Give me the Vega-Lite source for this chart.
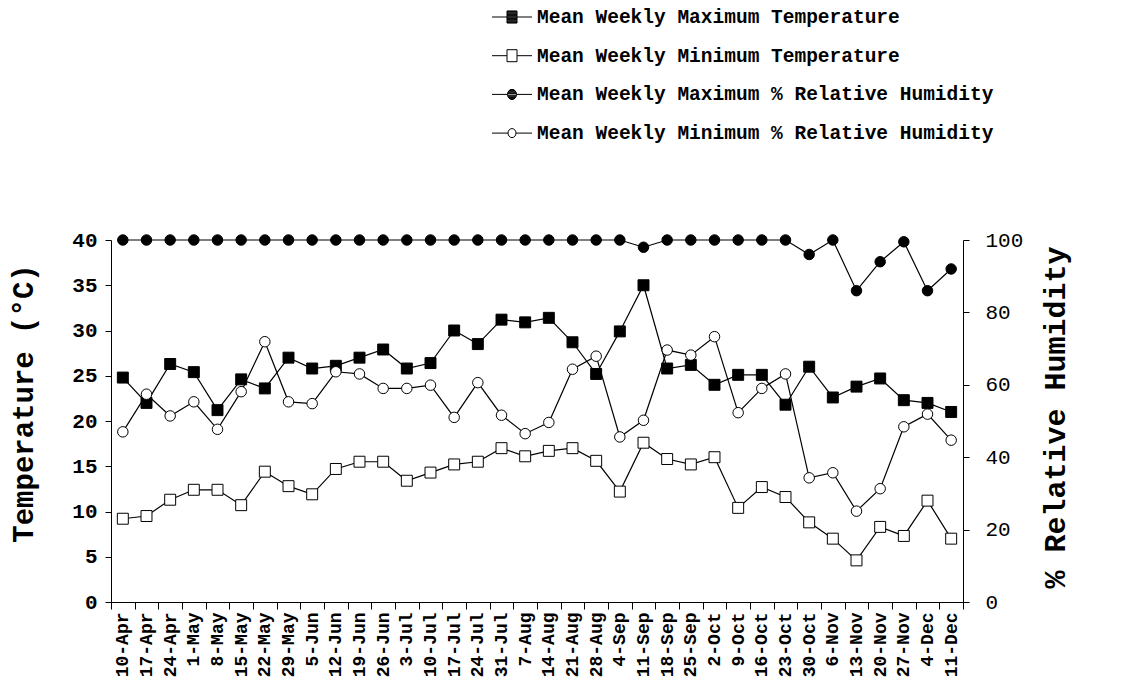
{
  "$schema": "https://vega.github.io/schema/vega-lite/v6.json",
  "width": 852,
  "height": 362,
  "autosize": "none",
  "padding": {"left": 111, "top": 240, "right": 173, "bottom": 94},
  "background": "white",
  "config": {
    "view": {"stroke": null},
    "axis": {"grid": false, "domainColor": "black", "tickColor": "black", "labelColor": "black", "titleColor": "black", "domainWidth": 1, "tickWidth": 1},
    "legend": {"rowPadding": 18.7, "padding": 0, "labelFont": "Liberation Mono", "labelFontWeight": "bold", "labelFontSize": 19.5, "labelColor": "black", "labelOffset": 14.5, "symbolSize": 400, "symbolStrokeColor": "black", "symbolStrokeWidth": 1, "labelLimit": 800}
  },
  "data": {
    "values": [
      {"week": "10-Apr", "Mean Weekly Maximum Temperature": 24.8, "Mean Weekly Minimum Temperature": 9.2, "Mean Weekly Maximum % Relative Humidity": 100, "Mean Weekly Minimum % Relative Humidity": 47.0},
      {"week": "17-Apr", "Mean Weekly Maximum Temperature": 22.0, "Mean Weekly Minimum Temperature": 9.5, "Mean Weekly Maximum % Relative Humidity": 100, "Mean Weekly Minimum % Relative Humidity": 57.4},
      {"week": "24-Apr", "Mean Weekly Maximum Temperature": 26.3, "Mean Weekly Minimum Temperature": 11.3, "Mean Weekly Maximum % Relative Humidity": 100, "Mean Weekly Minimum % Relative Humidity": 51.4},
      {"week": "1-May", "Mean Weekly Maximum Temperature": 25.4, "Mean Weekly Minimum Temperature": 12.4, "Mean Weekly Maximum % Relative Humidity": 100, "Mean Weekly Minimum % Relative Humidity": 55.3},
      {"week": "8-May", "Mean Weekly Maximum Temperature": 21.2, "Mean Weekly Minimum Temperature": 12.4, "Mean Weekly Maximum % Relative Humidity": 100, "Mean Weekly Minimum % Relative Humidity": 47.7},
      {"week": "15-May", "Mean Weekly Maximum Temperature": 24.6, "Mean Weekly Minimum Temperature": 10.7, "Mean Weekly Maximum % Relative Humidity": 100, "Mean Weekly Minimum % Relative Humidity": 58.1},
      {"week": "22-May", "Mean Weekly Maximum Temperature": 23.6, "Mean Weekly Minimum Temperature": 14.4, "Mean Weekly Maximum % Relative Humidity": 100, "Mean Weekly Minimum % Relative Humidity": 71.9},
      {"week": "29-May", "Mean Weekly Maximum Temperature": 27.0, "Mean Weekly Minimum Temperature": 12.8, "Mean Weekly Maximum % Relative Humidity": 100, "Mean Weekly Minimum % Relative Humidity": 55.3},
      {"week": "5-Jun", "Mean Weekly Maximum Temperature": 25.8, "Mean Weekly Minimum Temperature": 11.9, "Mean Weekly Maximum % Relative Humidity": 100, "Mean Weekly Minimum % Relative Humidity": 54.8},
      {"week": "12-Jun", "Mean Weekly Maximum Temperature": 26.1, "Mean Weekly Minimum Temperature": 14.7, "Mean Weekly Maximum % Relative Humidity": 100, "Mean Weekly Minimum % Relative Humidity": 63.6},
      {"week": "19-Jun", "Mean Weekly Maximum Temperature": 27.0, "Mean Weekly Minimum Temperature": 15.5, "Mean Weekly Maximum % Relative Humidity": 100, "Mean Weekly Minimum % Relative Humidity": 63.0},
      {"week": "26-Jun", "Mean Weekly Maximum Temperature": 27.9, "Mean Weekly Minimum Temperature": 15.5, "Mean Weekly Maximum % Relative Humidity": 100, "Mean Weekly Minimum % Relative Humidity": 59.0},
      {"week": "3-Jul", "Mean Weekly Maximum Temperature": 25.8, "Mean Weekly Minimum Temperature": 13.4, "Mean Weekly Maximum % Relative Humidity": 100, "Mean Weekly Minimum % Relative Humidity": 59.0},
      {"week": "10-Jul", "Mean Weekly Maximum Temperature": 26.4, "Mean Weekly Minimum Temperature": 14.3, "Mean Weekly Maximum % Relative Humidity": 100, "Mean Weekly Minimum % Relative Humidity": 59.9},
      {"week": "17-Jul", "Mean Weekly Maximum Temperature": 30.0, "Mean Weekly Minimum Temperature": 15.2, "Mean Weekly Maximum % Relative Humidity": 100, "Mean Weekly Minimum % Relative Humidity": 51.0},
      {"week": "24-Jul", "Mean Weekly Maximum Temperature": 28.5, "Mean Weekly Minimum Temperature": 15.5, "Mean Weekly Maximum % Relative Humidity": 100, "Mean Weekly Minimum % Relative Humidity": 60.6},
      {"week": "31-Jul", "Mean Weekly Maximum Temperature": 31.2, "Mean Weekly Minimum Temperature": 17.0, "Mean Weekly Maximum % Relative Humidity": 100, "Mean Weekly Minimum % Relative Humidity": 51.6},
      {"week": "7-Aug", "Mean Weekly Maximum Temperature": 30.9, "Mean Weekly Minimum Temperature": 16.1, "Mean Weekly Maximum % Relative Humidity": 100, "Mean Weekly Minimum % Relative Humidity": 46.5},
      {"week": "14-Aug", "Mean Weekly Maximum Temperature": 31.4, "Mean Weekly Minimum Temperature": 16.7, "Mean Weekly Maximum % Relative Humidity": 100, "Mean Weekly Minimum % Relative Humidity": 49.6},
      {"week": "21-Aug", "Mean Weekly Maximum Temperature": 28.7, "Mean Weekly Minimum Temperature": 17.0, "Mean Weekly Maximum % Relative Humidity": 100, "Mean Weekly Minimum % Relative Humidity": 64.3},
      {"week": "28-Aug", "Mean Weekly Maximum Temperature": 25.2, "Mean Weekly Minimum Temperature": 15.6, "Mean Weekly Maximum % Relative Humidity": 100, "Mean Weekly Minimum % Relative Humidity": 67.9},
      {"week": "4-Sep", "Mean Weekly Maximum Temperature": 29.9, "Mean Weekly Minimum Temperature": 12.2, "Mean Weekly Maximum % Relative Humidity": 100, "Mean Weekly Minimum % Relative Humidity": 45.6},
      {"week": "11-Sep", "Mean Weekly Maximum Temperature": 35.0, "Mean Weekly Minimum Temperature": 17.6, "Mean Weekly Maximum % Relative Humidity": 98, "Mean Weekly Minimum % Relative Humidity": 50.2},
      {"week": "18-Sep", "Mean Weekly Maximum Temperature": 25.8, "Mean Weekly Minimum Temperature": 15.8, "Mean Weekly Maximum % Relative Humidity": 100, "Mean Weekly Minimum % Relative Humidity": 69.6},
      {"week": "25-Sep", "Mean Weekly Maximum Temperature": 26.2, "Mean Weekly Minimum Temperature": 15.2, "Mean Weekly Maximum % Relative Humidity": 100, "Mean Weekly Minimum % Relative Humidity": 68.2},
      {"week": "2-Oct", "Mean Weekly Maximum Temperature": 24.0, "Mean Weekly Minimum Temperature": 16.0, "Mean Weekly Maximum % Relative Humidity": 100, "Mean Weekly Minimum % Relative Humidity": 73.3},
      {"week": "9-Oct", "Mean Weekly Maximum Temperature": 25.1, "Mean Weekly Minimum Temperature": 10.4, "Mean Weekly Maximum % Relative Humidity": 100, "Mean Weekly Minimum % Relative Humidity": 52.3},
      {"week": "16-Oct", "Mean Weekly Maximum Temperature": 25.1, "Mean Weekly Minimum Temperature": 12.7, "Mean Weekly Maximum % Relative Humidity": 100, "Mean Weekly Minimum % Relative Humidity": 59.0},
      {"week": "23-Oct", "Mean Weekly Maximum Temperature": 21.8, "Mean Weekly Minimum Temperature": 11.6, "Mean Weekly Maximum % Relative Humidity": 100, "Mean Weekly Minimum % Relative Humidity": 63.0},
      {"week": "30-Oct", "Mean Weekly Maximum Temperature": 26.0, "Mean Weekly Minimum Temperature": 8.8, "Mean Weekly Maximum % Relative Humidity": 96, "Mean Weekly Minimum % Relative Humidity": 34.3},
      {"week": "6-Nov", "Mean Weekly Maximum Temperature": 22.6, "Mean Weekly Minimum Temperature": 7.0, "Mean Weekly Maximum % Relative Humidity": 100, "Mean Weekly Minimum % Relative Humidity": 35.7},
      {"week": "13-Nov", "Mean Weekly Maximum Temperature": 23.8, "Mean Weekly Minimum Temperature": 4.6, "Mean Weekly Maximum % Relative Humidity": 86, "Mean Weekly Minimum % Relative Humidity": 25.1},
      {"week": "20-Nov", "Mean Weekly Maximum Temperature": 24.7, "Mean Weekly Minimum Temperature": 8.3, "Mean Weekly Maximum % Relative Humidity": 94, "Mean Weekly Minimum % Relative Humidity": 31.3},
      {"week": "27-Nov", "Mean Weekly Maximum Temperature": 22.3, "Mean Weekly Minimum Temperature": 7.3, "Mean Weekly Maximum % Relative Humidity": 99.5, "Mean Weekly Minimum % Relative Humidity": 48.4},
      {"week": "4-Dec", "Mean Weekly Maximum Temperature": 22.0, "Mean Weekly Minimum Temperature": 11.2, "Mean Weekly Maximum % Relative Humidity": 86, "Mean Weekly Minimum % Relative Humidity": 51.9},
      {"week": "11-Dec", "Mean Weekly Maximum Temperature": 21.0, "Mean Weekly Minimum Temperature": 7.0, "Mean Weekly Maximum % Relative Humidity": 92, "Mean Weekly Minimum % Relative Humidity": 44.7}
    ]
  },
  "encoding": {
    "x": {
      "field": "week", "type": "ordinal", "sort": null,
      "scale": {"type": "band", "paddingInner": 0, "paddingOuter": 0},
      "axis": {"title": null, "labelAngle": -90, "tickBand": "extent", "labelFont": "Liberation Mono", "labelFontWeight": "bold", "labelFontSize": 18, "tickSize": 7, "labelPadding": 3}
    }
  },
  "layer": [
    {
      "transform": [{"fold": ["Mean Weekly Maximum Temperature", "Mean Weekly Minimum Temperature"], "as": ["series", "value"]}],
      "encoding": {
        "y": {
          "field": "value", "type": "quantitative",
          "scale": {"domain": [0, 40], "nice": false},
          "axis": {"orient": "left", "values": [0, 5, 10, 15, 20, 25, 30, 35, 40], "title": "Temperature (°C)", "titleFont": "Liberation Mono", "titleFontWeight": "bold", "titleFontSize": 29, "titleAngle": -90, "titleX": -88, "titleY": 163, "titleAlign": "center", "titleBaseline": "middle", "labelFont": "Liberation Mono", "labelFontWeight": "bold", "labelFontSize": 21, "tickSize": 6, "labelPadding": 8}
        }
      },
      "layer": [
        {"mark": {"type": "line", "color": "black", "strokeWidth": 1.2}, "encoding": {"detail": {"field": "series"}}},
        {
          "mark": {"type": "point", "filled": true, "stroke": "black", "strokeWidth": 1, "opacity": 1, "size": 120},
          "encoding": {
            "shape": {
              "field": "series", "type": "nominal", "legend": null,
              "scale": {"domain": ["Mean Weekly Maximum Temperature", "Mean Weekly Minimum Temperature"], "range": ["square", "square"]}
            },
            "fill": {
              "field": "series", "type": "nominal", "legend": null,
              "scale": {"domain": ["Mean Weekly Maximum Temperature", "Mean Weekly Minimum Temperature"], "range": ["black", "white"]}
            }
          }
        }
      ]
    },
    {
      "transform": [{"fold": ["Mean Weekly Maximum % Relative Humidity", "Mean Weekly Minimum % Relative Humidity"], "as": ["series", "value"]}],
      "encoding": {
        "y": {
          "field": "value", "type": "quantitative",
          "scale": {"domain": [0, 100], "nice": false},
          "axis": {"orient": "right", "values": [0, 20, 40, 60, 80, 100], "title": "% Relative Humidity", "titleFont": "Liberation Mono", "titleFontWeight": "bold", "titleFontSize": 30, "titleAngle": -90, "titleX": 92, "titleY": 177, "titleAlign": "center", "titleBaseline": "middle", "labelFont": "Liberation Mono", "labelFontWeight": "normal", "labelFontSize": 21, "tickSize": 6, "labelPadding": 16}
        }
      },
      "layer": [
        {"mark": {"type": "line", "color": "black", "strokeWidth": 1.2}, "encoding": {"detail": {"field": "series"}}},
        {
          "mark": {"type": "point", "filled": true, "stroke": "black", "strokeWidth": 1, "opacity": 1, "size": 110},
          "encoding": {
            "shape": {
              "field": "series", "type": "nominal", "legend": null,
              "scale": {"domain": ["Mean Weekly Maximum % Relative Humidity", "Mean Weekly Minimum % Relative Humidity"], "range": ["circle", "circle"]}
            },
            "fill": {
              "field": "series", "type": "nominal", "legend": null,
              "scale": {"domain": ["Mean Weekly Maximum % Relative Humidity", "Mean Weekly Minimum % Relative Humidity"], "range": ["black", "white"]}
            }
          }
        }
      ]
    },
    {
      "transform": [{"fold": ["Mean Weekly Maximum Temperature", "Mean Weekly Minimum Temperature", "Mean Weekly Maximum % Relative Humidity", "Mean Weekly Minimum % Relative Humidity"], "as": ["series", "value"]}],
      "mark": {"type": "point", "filled": true, "fill": "white", "stroke": "black", "strokeWidth": 1, "opacity": 0},
      "encoding": {
        "y": {"field": "value", "type": "quantitative", "scale": {"domain": [0, 100], "nice": false}, "axis": null},
        "shape": {
          "field": "series", "type": "nominal",
          "scale": {
            "domain": ["Mean Weekly Maximum Temperature", "Mean Weekly Minimum Temperature", "Mean Weekly Maximum % Relative Humidity", "Mean Weekly Minimum % Relative Humidity"],
            "range": [
              "M-2,0H-0.5M0.5,0H2M-0.5,-0.6H0.5V0.6H-0.5ZM-0.5,-0.56H0.5M-0.5,-0.48H0.5M-0.5,-0.4H0.5M-0.5,-0.32H0.5M-0.5,-0.24H0.5M-0.5,-0.16H0.5M-0.5,-0.08H0.5M-0.5,0H0.5M-0.5,0.08H0.5M-0.5,0.16H0.5M-0.5,0.24H0.5M-0.5,0.32H0.5M-0.5,0.4H0.5M-0.5,0.48H0.5M-0.5,0.56H0.5",
              "M-2,0H-0.5M0.5,0H2M-0.5,-0.6H0.5V0.6H-0.5Z",
              "M-2,0H-0.45M0.45,0H2M-0.45,0A0.45,0.5,0,1,0,0.45,0A0.45,0.5,0,1,0,-0.45,0ZM-0.444,-0.08H0.444M-0.444,0.08H0.444M-0.426,-0.16H0.426M-0.426,0.16H0.426M-0.395,-0.24H0.395M-0.395,0.24H0.395M-0.346,-0.32H0.346M-0.346,0.32H0.346M-0.27,-0.4H0.27M-0.27,0.4H0.27M-0.176,-0.46H0.176M-0.176,0.46H0.176",
              "M-2,0H-0.4M0.4,0H2M-0.4,0A0.4,0.45,0,1,0,0.4,0A0.4,0.45,0,1,0,-0.4,0Z"
            ]
          },
          "legend": {
            "title": null, "orient": "none", "legendX": 390.5, "legendY": -233.5,
            "encoding": {"symbols": {"fill": {"value": "white"}, "stroke": {"value": "black"}, "strokeWidth": {"value": 1}, "opacity": {"value": 1}}}
          }
        }
      }
    }
  ],
  "resolve": {"scale": {"y": "independent", "shape": "independent", "fill": "independent"}}
}
